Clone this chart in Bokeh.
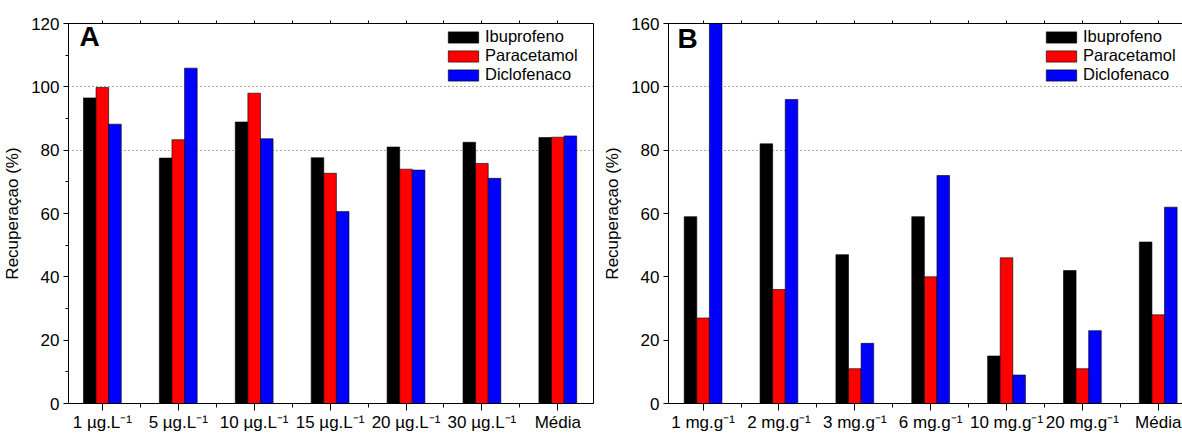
from bokeh.plotting import figure
from bokeh.models import FixedTicker, LinearAxis, Range1d, Label, ColumnDataSource, CustomLabelingPolicy
from bokeh.transform import dodge
from bokeh.layouts import row
from bokeh.embed import file_html
from bokeh.resources import INLINE

# ---- data ----
series_names = ["Ibuprofeno", "Paracetamol", "Diclofenaco"]
series_colors = ["#000000", "#FF0000", "#0000FF"]

cats_a = ["1 µg.L⁻¹", "5 µg.L⁻¹", "10 µg.L⁻¹", "15 µg.L⁻¹", "20 µg.L⁻¹", "30 µg.L⁻¹", "Média"]
ibu_a = [96.5, 77.5, 88.9, 77.6, 81.0, 82.5, 84.0]
par_a = [99.8, 83.3, 98.0, 72.7, 74.0, 75.8, 84.1]
dic_a = [88.2, 105.9, 83.6, 60.6, 73.7, 71.1, 84.5]

cats_b = ["1 mg.g⁻¹", "2 mg.g⁻¹", "3 mg.g⁻¹", "6 mg.g⁻¹", "10 mg.g⁻¹", "20 mg.g⁻¹", "Média"]
ibu_b = [59, 82, 47, 59, 15, 42, 51]
par_b = [27, 36, 11, 40, 46, 11, 28]
dic_b = [160, 96, 19, 72, 9, 23, 62]

yticks = [0, 20, 40, 60, 80, 100, 120]
yminor_a = [10, 30, 50, 70, 90, 110]
ylabel_over_b = {120: "160"}
grid_vals = [80, 100]

FONT = "Liberation Sans"
FS = "17px"
BW = 0.166


def panel(cats, ibu, par, dic, letter, yminor, yover, width, bl, br, xr, letter_xy, outline, leg_x):
    n = len(cats)
    xs = list(range(1, n + 1))
    src = ColumnDataSource(dict(x=xs, ibu=ibu, par=par, dic=dic))
    p = figure(width=width, height=434, x_range=Range1d(*xr), y_range=Range1d(0, 120),
               output_backend="svg", toolbar_location=None,
               min_border_left=bl, min_border_right=br, min_border_top=23, min_border_bottom=29)
    p.background_fill_color = "white"
    p.border_fill_color = "white"
    p.outline_line_color = "black" if outline else None
    p.outline_line_width = 1

    for key, off, name, col in zip(["ibu", "par", "dic"], [-BW, 0, BW], series_names, series_colors):
        p.vbar(x=dodge("x", off, range=p.x_range), top=key, width=BW, source=src,
               fill_color=col, line_color="black", line_alpha=0.6, line_width=1,
               legend_label=name)

    # x axis
    xa = p.xaxis[0]
    xa.ticker = FixedTicker(ticks=xs, minor_ticks=[x + 0.5 for x in xs[:-1]])
    xa.major_label_overrides = {x: c for x, c in zip(xs, cats)}
    xa.major_label_text_font = FONT
    xa.major_label_text_font_size = FS
    xa.major_label_text_color = "black"
    xa.major_tick_out = 7
    xa.major_tick_in = 0
    xa.minor_tick_out = 4
    xa.minor_tick_in = 0
    xa.major_label_standoff = 2
    xa.axis_line_color = "black"
    xa.major_tick_line_color = "black"
    xa.minor_tick_line_color = "black"

    # y axis
    ya = p.yaxis[0]
    ya.ticker = FixedTicker(ticks=yticks, minor_ticks=yminor)
    if yover:
        ya.major_label_overrides = yover
    ya.major_label_text_font = FONT
    ya.major_label_text_font_size = FS
    ya.major_label_text_color = "black"
    ya.major_tick_out = 5
    ya.major_tick_in = 0
    ya.minor_tick_out = 3
    ya.minor_tick_in = 0
    ya.major_label_standoff = 4
    ya.axis_label = "Recuperaçao (%)"
    ya.axis_label_text_font = FONT
    ya.axis_label_text_font_size = FS
    ya.axis_label_text_font_style = "normal"
    ya.axis_label_text_color = "black"
    ya.axis_label_standoff = 6
    ya.axis_line_color = "black"
    ya.major_tick_line_color = "black"
    ya.minor_tick_line_color = "black"

    # top axis (ticks only, no labels)
    ta = LinearAxis(ticker=FixedTicker(ticks=[x / 2 for x in range(2, 2 * n + 1)], minor_ticks=[]))
    ta.major_label_policy = CustomLabelingPolicy(code="return []")
    ta.major_label_standoff = 0
    ta.major_tick_out = 3
    ta.major_tick_in = 0
    ta.axis_line_color = "black"
    ta.major_tick_line_color = "black"
    p.add_layout(ta, "above")

    # grid
    p.xgrid.visible = False
    p.ygrid.ticker = FixedTicker(ticks=grid_vals)
    p.ygrid.grid_line_color = "#555555"
    p.ygrid.grid_line_dash = "1 3"
    p.ygrid.grid_line_width = 1

    # legend
    lg = p.legend[0]
    lg.location = (leg_x, 319)
    lg.padding = 0
    lg.margin = 0
    lg.spacing = 0
    lg.glyph_width = 38
    lg.glyph_height = 14
    lg.label_height = 19
    lg.label_standoff = 3
    lg.label_text_font = FONT
    lg.label_text_font_size = "16.5px"
    lg.label_text_color = "black"
    lg.background_fill_alpha = 0
    lg.border_line_color = None

    p.add_layout(Label(x=letter_xy[0], y=letter_xy[1], x_units="screen", y_units="screen",
                       text=letter, text_font=FONT, text_font_size="28px",
                       text_font_style="bold", text_color="black"))
    return p


pa = panel(cats_a, ibu_a, par_a, dic_a, "A", yminor_a, None, 600, 66, 7,
           (0.554, 7.47), (11, 352), True, 376)
pb = panel(cats_b, ibu_b, par_b, dic_b, "B", [], ylabel_over_b, 582, 62, 0,
           (0.544, 7.32), (9, 350), False, 374)

layout = row(pa, pb)
layout.spacing = 0
open("out.html", "w").write(file_html(layout, INLINE))
